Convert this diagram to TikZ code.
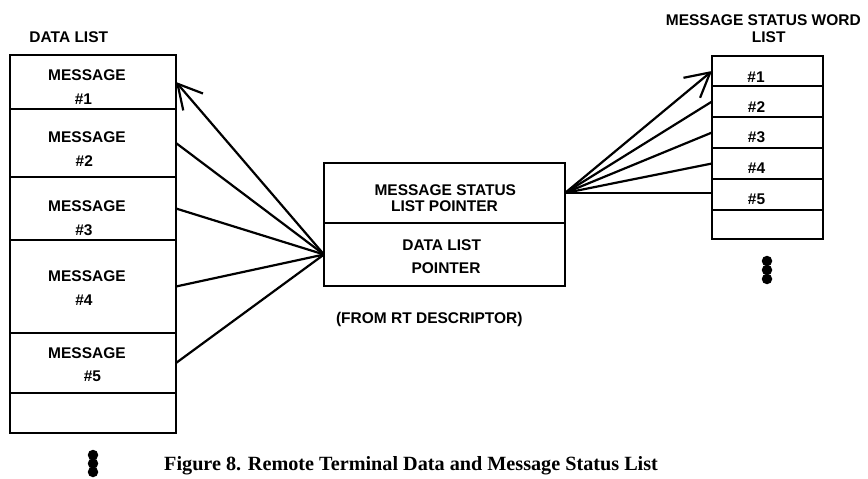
\documentclass[tikz,border=0pt]{standalone}
\usepackage{fontspec}
\setmainfont{Liberation Serif}
\newfontfamily\lsans{Liberation Sans}
\usetikzlibrary{arrows.meta}
\tikzset{
  cell/.style={draw, line width=2.9pt, rectangle, inner sep=0pt, outer sep=0pt},
  lbl/.style={font=\lsans\bfseries\fontsize{15.5}{18}\selectfont, anchor=base, inner sep=0pt},
  conn/.style={line width=2.2pt},
  parrow/.style={conn, -{Straight Barb[length=24pt,width=26pt,line width=2.2pt]}},
  dot/.style={circle, fill=black, inner sep=0pt, minimum size=10.5pt}
}
\begin{document}
\begin{tikzpicture}[x=1pt,y=-1pt]
\useasboundingbox (0,0) rectangle (868,479);
% data list
\node[cell, minimum width=166pt, minimum height=54pt] (m1) at (93,82) {};
\node[cell, minimum width=166pt, minimum height=68pt] (m2) at (93,143) {};
\node[cell, minimum width=166pt, minimum height=63pt] (m3) at (93,208.5) {};
\node[cell, minimum width=166pt, minimum height=93pt] (m4) at (93,286.5) {};
\node[cell, minimum width=166pt, minimum height=60pt] (m5) at (93,363) {};
\node[cell, minimum width=166pt, minimum height=40pt] (m6) at (93,413) {};
\node[lbl] (hdl) at (68.8,42.6) {DATA LIST};
\node[lbl] (t1a) at (87,80.7) {MESSAGE};
\node[lbl] (t1b) at (83.5,104.3) {\#1};
\node[lbl] (t2a) at (87,142.3) {MESSAGE};
\node[lbl] (t2b) at (84.3,166) {\#2};
\node[lbl] (t3a) at (87,211.1) {MESSAGE};
\node[lbl] (t3b) at (84,235.4) {\#3};
\node[lbl] (t4a) at (87,281.6) {MESSAGE};
\node[lbl] (t4b) at (84,305) {\#4};
\node[lbl] (t5a) at (87,358.1) {MESSAGE};
\node[lbl] (t5b) at (92.5,381.4) {\#5};
% central descriptor
\node[cell, minimum width=241pt, minimum height=60pt] (msp) at (444.5,193) {};
\node[cell, minimum width=241pt, minimum height=63pt] (dlp) at (444.5,254.5) {};
\node[lbl] (c1) at (445.3,195) {MESSAGE STATUS};
\node[lbl] (c2) at (444.5,211) {LIST POINTER};
\node[lbl] (c3) at (441.7,250.6) {DATA LIST};
\node[lbl] (c4) at (446,273) {POINTER};
\node[lbl] (c5) at (429.3,323) {(FROM RT DESCRIPTOR)};
% status word list
\node[cell, minimum width=111pt, minimum height=30pt] (s1) at (767.5,71) {};
\node[cell, minimum width=111pt, minimum height=31pt] (s2) at (767.5,101.5) {};
\node[cell, minimum width=111pt, minimum height=31pt] (s3) at (767.5,132.5) {};
\node[cell, minimum width=111pt, minimum height=31pt] (s4) at (767.5,163.5) {};
\node[cell, minimum width=111pt, minimum height=31pt] (s5) at (767.5,194.5) {};
\node[cell, minimum width=111pt, minimum height=29pt] (s6) at (767.5,224.5) {};
\node[lbl] (hs1) at (763.3,25.6) {MESSAGE STATUS WORD};
\node[lbl] (hs2) at (768.7,42.3) {LIST};
\node[lbl] (r1) at (756,82.3) {\#1};
\node[lbl] (r2) at (756.5,112.3) {\#2};
\node[lbl] (r3) at (756.5,142.3) {\#3};
\node[lbl] (r4) at (756.5,173.9) {\#4};
\node[lbl] (r5) at (756.5,204.6) {\#5};
% connectors
\draw[parrow] (dlp.west) -- (m1.east);
\draw[conn] (dlp.west) -- (m2.east);
\draw[conn] (dlp.west) -- (m3.east);
\draw[conn] (dlp.west) -- (m4.east);
\draw[conn] (dlp.west) -- (m5.east);
\draw[parrow] (msp.east) -- (s1.west);
\draw[conn] (msp.east) -- (s2.west);
\draw[conn] (msp.east) -- (s3.west);
\draw[conn] (msp.east) -- (s4.west);
\draw[conn] (msp.east) -- (msp.east -| s5.west);
% continuation dots
\node[dot] (ld1) at (93,455) {};
\node[dot] (ld2) at (93,463.5) {};
\node[dot] (ld3) at (93,472) {};
\node[dot] (rd1) at (767,261) {};
\node[dot] (rd2) at (767,270) {};
\node[dot] (rd3) at (767,279) {};
% caption
\node[anchor=base west, inner sep=0pt, font=\bfseries\fontsize{20.2}{24}\selectfont] (cap) at (164,470) {Figure 8. Remote Terminal Data and Message Status List};
\end{tikzpicture}
\end{document}
